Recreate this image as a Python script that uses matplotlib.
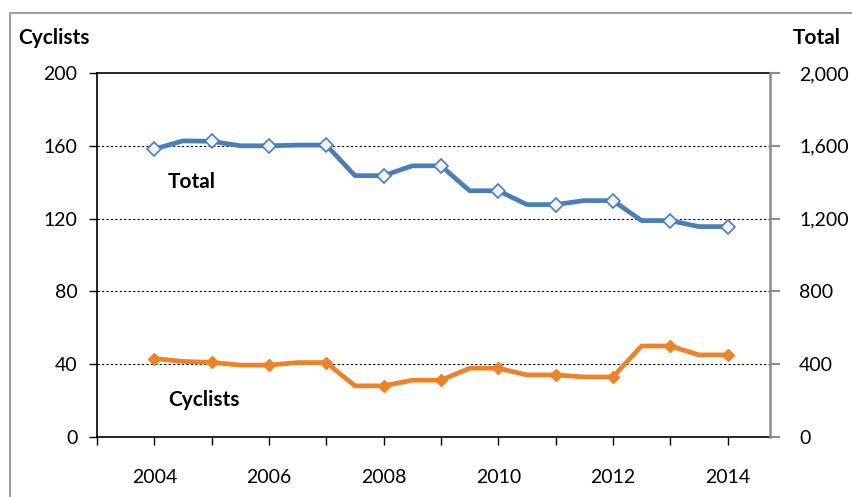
import matplotlib.pyplot as plt
from matplotlib.patches import Rectangle

plt.rcParams['font.family'] = ['Lato', 'DejaVu Sans']

# half-year periods, markers only on whole years
periods = [2004, 2004.5, 2005, 2005.5, 2006, 2006.5, 2007, 2007.5, 2008, 2008.5, 2009,
           2009.5, 2010, 2010.5, 2011, 2011.5, 2012, 2012.5, 2013, 2013.5, 2014]
total = [1582, 1627, 1625, 1600, 1600, 1604, 1604, 1436, 1436, 1490, 1490,
         1353, 1353, 1277, 1277, 1299, 1299, 1189, 1189, 1156, 1156]
cyclists = [43.1, 41.5, 41.0, 39.5, 39.5, 40.9, 40.9, 28.1, 28.1, 31.2, 31.2,
            37.8, 37.8, 34.1, 34.1, 33.0, 33.0, 50.0, 50.0, 45.1, 45.1]

year_ticks = [2003, 2004, 2005, 2006, 2007, 2008, 2009, 2010, 2011, 2012, 2013, 2014]
year_labels = ['', '2004', '', '2006', '', '2008', '', '2010', '', '2012', '', '2014']
left_ticks = [0, 40, 80, 120, 160, 200]
right_ticks = [0, 400, 800, 1200, 1600, 2000]
right_labels = ['0', '400', '800', '1,200', '1,600', '2,000']

blue = '#4A7EBB'
orange = '#EE8226'
grey = '#8C8C8C'

fig = plt.figure(figsize=(8.53, 4.97), dpi=100)
ax = fig.add_axes([97/853, 1-437/497, (770-97)/853, (437-73)/497])
ax2 = ax.twinx()

ax.set_xlim(2003, 2014.74)
ax.set_ylim(0, 200)
ax2.set_ylim(0, 2000)

for y in left_ticks[1:-1]:
    ax.axhline(y, color='black', lw=0.8, ls=(0, (2, 2)), zorder=1)

ax.plot(periods, cyclists, color=orange, lw=3.4, marker='D', markersize=6.5,
        markerfacecolor=orange, markeredgecolor=orange, markevery=2, zorder=3)
ax2.plot(periods, total, color=blue, lw=3.4, marker='D', markersize=7.5,
         markerfacecolor='#EEF3FA', markeredgecolor=blue, markeredgewidth=1.2,
         markevery=2, zorder=3)

ax.set_xticks(year_ticks)
ax.set_xticklabels(year_labels)
ax.set_yticks(left_ticks)
ax2.set_yticks(right_ticks)
ax2.set_yticklabels(right_labels)

ax.tick_params(axis='x', direction='out', length=6, width=1, pad=17, labelsize=14)
ax.tick_params(axis='y', direction='out', length=6, width=1, pad=8, labelsize=14)
ax2.tick_params(axis='y', direction='out', length=7, width=1.5, color=grey, pad=14, labelsize=14)

for s in ['left', 'bottom', 'top']:
    ax.spines[s].set_color('black')
    ax.spines[s].set_linewidth(1.2)
ax.spines['right'].set_visible(False)
for s in ['left', 'bottom', 'top']:
    ax2.spines[s].set_visible(False)
ax2.spines['right'].set_color(grey)
ax2.spines['right'].set_linewidth(1.8)

fig.text(18/853, 1-38/497, 'Cyclists', fontsize=15, fontweight='bold', va='center', ha='left')
fig.text(841/853, 1-38/497, 'Total', fontsize=15, fontweight='bold', va='center', ha='right')
fig.text(168/853, 1-182/497, 'Total', fontsize=15, fontweight='bold', va='center', ha='left')
fig.text(168/853, 1-400/497, 'Cyclists', fontsize=15, fontweight='bold', va='center', ha='left')

fig.add_artist(Rectangle((10/853, -0.1), 2, 1 - 13/497 + 0.1, transform=fig.transFigure,
                         fill=False, edgecolor=grey, lw=1.2))

fig.savefig('out.png', dpi=100)
